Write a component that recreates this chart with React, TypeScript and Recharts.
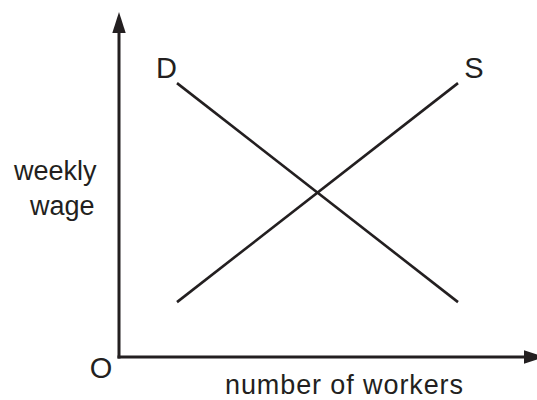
import React from 'react';
import { LineChart, Line, XAxis, YAxis, ReferenceLine, ReferenceDot } from 'recharts';

// labour market: demand and supply of workers
const demand = [
  { workers: 14.5, wage: 91.3 },
  { workers: 84.75, wage: 18.3 },
];
const supply = [
  { workers: 14.5, wage: 18.3 },
  { workers: 84.75, wage: 91.3 },
];
const curveLabels = [
  { name: 'D', workers: 11.9, wage: 93 },
  { name: 'S', workers: 88.75, wage: 93 },
];
const yTitle = ['weekly', 'wage'];
const xTitle = 'number of workers';
const originLabel = 'O';

const INK = '#231f20';
const FONT = '"Liberation Sans", Arial, Helvetica, sans-serif';

const Arrow = (props: any) => {
  const { x1, y1, x2, y2 } = props;
  const len = 21;
  const half = 6.7;
  const dx = x2 - x1;
  const dy = y2 - y1;
  const d = Math.hypot(dx, dy) || 1;
  const ux = dx / d;
  const uy = dy / d;
  const bx = x2 - ux * len;
  const by = y2 - uy * len;
  const pts = `${x2},${y2} ${bx - uy * half},${by + ux * half} ${bx + uy * half},${by - ux * half}`;
  return (
    <g>
      <line x1={x1} y1={y1} x2={bx} y2={by} stroke={INK} strokeWidth={3} strokeLinecap="square" />
      <polygon points={pts} fill={INK} />
    </g>
  );
};

const textShape = (lines: string[], size: number, anchor: string, lineGap = 0, spacing = 0) => (p: any) => (
  <text x={p.cx} y={p.cy} fill={INK} fontSize={size} fontFamily={FONT} textAnchor={anchor} letterSpacing={spacing}>
    {lines.map((t, i) => (
      <tspan key={i} x={p.cx + (i === 1 ? 16 : 0)} dy={i === 0 ? 0 : lineGap}>
        {t}
      </tspan>
    ))}
  </text>
);

export default function App() {
  return (
    <div style={{ position: 'absolute', left: 0, top: 0, width: 537, height: 400, background: '#fff', overflow: 'hidden' }}>
      <LineChart width={537} height={400} margin={{ top: 12, right: 0, bottom: 43, left: 119 }}>
        <XAxis type="number" dataKey="workers" domain={[0, 104.5]} hide />
        <YAxis type="number" dataKey="wage" domain={[0, 115]} hide />
        <ReferenceLine
          segment={[{ x: 0, y: 0 }, { x: 0, y: 115 }]}
          ifOverflow="visible"
          shape={Arrow}
        />
        <ReferenceLine
          segment={[{ x: 0, y: 0 }, { x: 106.5, y: 0 }]}
          ifOverflow="visible"
          shape={Arrow}
        />
        <Line data={demand} dataKey="wage" stroke={INK} strokeWidth={2.6} dot={false} isAnimationActive={false} />
        <Line data={supply} dataKey="wage" stroke={INK} strokeWidth={2.6} dot={false} isAnimationActive={false} />
        {curveLabels.map((c) => (
          <ReferenceDot
            key={c.name}
            x={c.workers}
            y={c.wage}
            ifOverflow="visible"
            shape={textShape([c.name], 29, 'middle')}
          />
        ))}
        <ReferenceDot x={-4.5} y={-7} ifOverflow="visible" shape={textShape([originLabel], 29, 'middle')} />
        <ReferenceDot x={-26.25} y={59} ifOverflow="visible" shape={textShape(yTitle, 27, 'start', 35)} />
        <ReferenceDot x={26.5} y={-12.3} ifOverflow="visible" shape={textShape([xTitle], 27, 'start', 0, 0.9)} />
      </LineChart>
    </div>
  );
}
